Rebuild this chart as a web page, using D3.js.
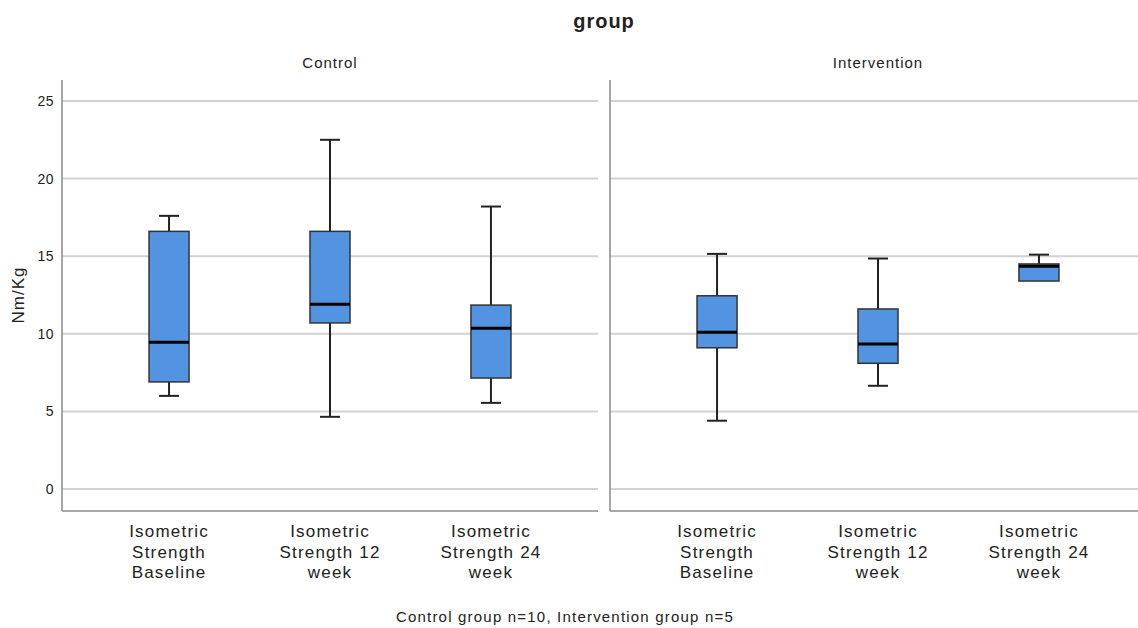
<!DOCTYPE html>
<html>
<head>
<meta charset="utf-8">
<script src="https://cdn.jsdelivr.net/npm/d3@7"></script>
<style>
  body { margin: 0; background: #fff; }
  text { font-family: Arial, "Liberation Sans", sans-serif; fill: #222; }
</style>
</head>
<body>
<div id="chart"></div>
<script>
// data
const panels = ["Control", "Intervention"];
const categories = ["Isometric Strength Baseline", "Isometric Strength 12 week", "Isometric Strength 24 week"];
const catLines = [["Isometric", "Strength", "Baseline"], ["Isometric", "Strength 12", "week"], ["Isometric", "Strength 24", "week"]];
// per panel, per category: [min, q1, median, q3, max]
const controlStats = [
    [6.0, 6.9, 9.45, 16.6, 17.6],
    [4.65, 10.7, 11.9, 16.6, 22.5],
    [5.55, 7.15, 10.35, 11.85, 18.2]
];
const interventionStats = [
    [4.4, 9.1, 10.1, 12.45, 15.15],
    [6.65, 8.1, 9.35, 11.6, 14.85],
    [13.4, 13.4, 14.35, 14.5, 15.1]
];
const yTicks = [0, 5, 10, 15, 20, 25];

const W = 1138, H = 628;
const svg = d3.select("#chart").append("svg")
    .attr("width", W)
    .attr("height", H);

const y = d3.scaleLinear().domain([0, 25]).range([489, 101]);
const plotTop = 80, plotBottom = 511;

const panelRanges = [[62, 598], [610, 1146]];
const statsByPanel = [controlStats, interventionStats];

svg.append("text")
    .attr("x", 604).attr("y", 28)
    .attr("text-anchor", "middle")
    .style("font-size", "20px")
    .style("font-weight", "bold")
    .style("letter-spacing", "1px")
    .text("group");

panels.forEach((p, pi) => {
    const [x0, x1] = panelRanges[pi];
    const x = d3.scalePoint().domain(categories).range([x0, x1]).padding(0.665);
    const g = svg.append("g");

    // gridlines
    g.selectAll("line.grid")
        .data(yTicks)
        .enter().append("line")
        .attr("class", "grid")
        .attr("x1", x0).attr("x2", Math.min(x1, W))
        .attr("y1", d => y(d)).attr("y2", d => y(d))
        .attr("stroke", "#d2d2d2")
        .attr("stroke-width", 2);

    // left axis line and bottom
    g.append("line")
        .attr("x1", x0).attr("x2", x0)
        .attr("y1", plotTop).attr("y2", plotBottom)
        .attr("stroke", "#8a8a8a").attr("stroke-width", 1.5);
    g.append("line")
        .attr("x1", x0).attr("x2", Math.min(x1, W))
        .attr("y1", plotBottom).attr("y2", plotBottom)
        .attr("stroke", "#8a8a8a").attr("stroke-width", 1.5);

    // facet label
    g.append("text")
        .attr("x", x(categories[1])).attr("y", 68)
        .attr("text-anchor", "middle")
        .style("font-size", "15px")
        .style("letter-spacing", "1px")
        .text(p);

    const stats = statsByPanel[pi];
    const boxW = 40, capW = 20;
    const box = g.selectAll("g.box")
        .data(stats)
        .enter().append("g")
        .attr("class", "box")
        .attr("transform", (d, i) => `translate(${x(categories[i])},0)`);

    // whiskers
    box.append("line")
        .attr("x1", 0).attr("x2", 0)
        .attr("y1", d => y(d[3])).attr("y2", d => y(d[4]))
        .attr("stroke", "#222").attr("stroke-width", 2);
    box.append("line")
        .attr("x1", 0).attr("x2", 0)
        .attr("y1", d => y(d[0])).attr("y2", d => y(d[1]))
        .attr("stroke", "#222").attr("stroke-width", 2);
    box.append("line")
        .attr("x1", -capW / 2).attr("x2", capW / 2)
        .attr("y1", d => y(d[4])).attr("y2", d => y(d[4]))
        .attr("stroke", "#222").attr("stroke-width", 2);
    box.filter(d => d[0] < d[1]).append("line")
        .attr("x1", -capW / 2).attr("x2", capW / 2)
        .attr("y1", d => y(d[0])).attr("y2", d => y(d[0]))
        .attr("stroke", "#222").attr("stroke-width", 2);

    box.append("rect")
        .attr("x", -boxW / 2).attr("width", boxW)
        .attr("y", d => y(d[3]))
        .attr("height", d => y(d[1]) - y(d[3]))
        .attr("fill", "#5294e2")
        .attr("stroke", "#333")
        .attr("stroke-width", 1.5);

    box.append("line")
        .attr("x1", -boxW / 2).attr("x2", boxW / 2)
        .attr("y1", d => y(d[2])).attr("y2", d => y(d[2]))
        .attr("stroke", "#000").attr("stroke-width", 3);

    // category labels
    const lbl = g.selectAll("text.cat")
        .data(catLines)
        .enter().append("text")
        .attr("class", "cat")
        .attr("text-anchor", "middle")
        .style("font-size", "17px")
        .style("letter-spacing", "1.2px")
        .attr("transform", (d, i) => `translate(${x(categories[i])},537)`);
    lbl.selectAll("tspan")
        .data(d => d)
        .enter().append("tspan")
        .attr("x", 0)
        .attr("dy", (d, i) => i === 0 ? 0 : 20.5)
        .text(d => d);
});

// y tick labels
svg.selectAll("text.ytick")
    .data(yTicks)
    .enter().append("text")
    .attr("class", "ytick")
    .attr("x", 54)
    .attr("y", d => y(d) + 5)
    .attr("text-anchor", "end")
    .style("font-size", "14px")
    .style("letter-spacing", "0.5px")
    .text(d => d);

svg.append("text")
    .attr("transform", "translate(24,295) rotate(-90)")
    .attr("text-anchor", "middle")
    .style("font-size", "17px")
    .style("letter-spacing", "1px")
    .text("Nm/Kg");

svg.append("text")
    .attr("x", 565).attr("y", 622)
    .attr("text-anchor", "middle")
    .style("font-size", "15px")
    .style("letter-spacing", "1.2px")
    .text("Control group n=10, Intervention group n=5");
</script>
</body>
</html>
